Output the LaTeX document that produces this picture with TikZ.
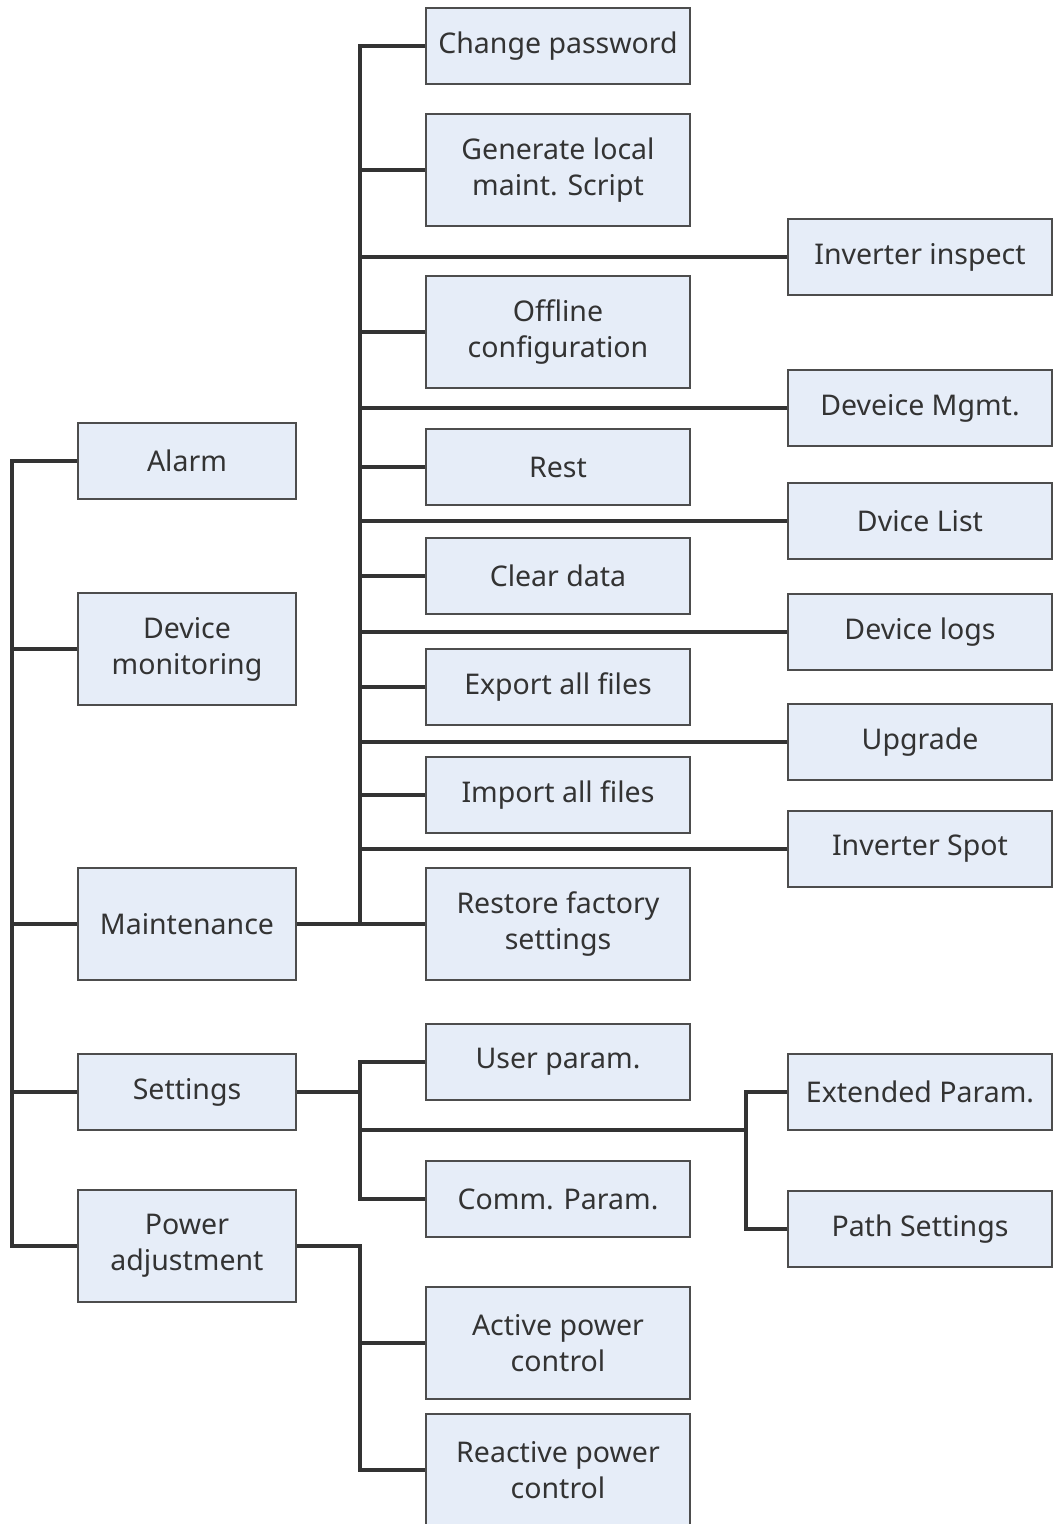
\documentclass[tikz,border=0pt]{standalone}
\usepackage{fontspec}
\setmainfont{Noto Sans}
\definecolor{boxfill}{HTML}{E6EDF8}
\definecolor{boxline}{HTML}{4D4D4D}
\definecolor{linec}{HTML}{333333}
\definecolor{txt}{HTML}{333333}
\begin{document}
\begin{tikzpicture}[x=1pt,y=-1pt,
  box/.style={draw=boxline,fill=boxfill,line width=1.5pt,align=center,text=txt,
    font=\fontsize{28.5}{36}\selectfont,inner sep=0pt},
  lbox/.style={box,minimum width=218pt},
  mbox/.style={box,minimum width=264pt},
  one/.style={minimum height=76pt},
  two/.style={minimum height=112pt},
  conn/.style={draw=linec,line width=3.2pt,line join=miter}]
\useasboundingbox (0,0) rectangle (1053,1524);
\clip (0,0) rectangle (1053,1524);
\coordinate (lx) at (12,0);
\coordinate (mx) at (360,0);
\coordinate (px) at (746,0);
\coordinate (sj) at (360,1130);
% left column
\node[lbox,one] (alarm) at (187,461) {Alarm};
\node[lbox,two] (devmon) at (187,649) {Device\\monitoring};
\node[lbox,two] (maint) at (187,924) {Maintenance};
\node[lbox,one] (settings) at (187,1092) {Settings};
\node[lbox,two] (power) at (187,1246) {Power\\adjustment};
% middle column
\node[mbox,one] (chpw) at (558,46) {Change password};
\node[mbox,two] (gen) at (558,170) {Generate local\\maint. Script};
\node[mbox,two] (offline) at (558,332) {Offline\\configuration};
\node[mbox,one] (rest) at (558,467) {Rest};
\node[mbox,one] (clear) at (558,576) {Clear data};
\node[mbox,one] (export) at (558,687) {Export all files};
\node[mbox,one] (import) at (558,795) {Import all files};
\node[mbox,two] (restore) at (558,924) {Restore factory\\settings};
\node[mbox,one] (user) at (558,1062) {User param.};
\node[mbox,one] (comm) at (558,1199) {Comm. Param.};
\node[mbox,two] (active) at (558,1343) {Active power\\control};
\node[mbox,two] (react) at (558,1470) {Reactive power\\control};
% right column
\node[mbox,one] (inspect) at (920,257) {Inverter inspect};
\node[mbox,one] (devmgmt) at (920,408) {Deveice Mgmt.};
\node[mbox,one] (dlist) at (920,521) {Dvice List};
\node[mbox,one] (dlogs) at (920,632) {Device logs};
\node[mbox,one] (upgrade) at (920,742) {Upgrade};
\node[mbox,one] (spot) at (920,849) {Inverter Spot};
\node[mbox,one] (ext) at (920,1092) {Extended Param.};
\node[mbox,one] (path) at (920,1229) {Path Settings};
% left trunk
\draw[conn] (alarm.west) -- (alarm.west -| lx) -- (power.west -| lx) -- (power.west);
\foreach \n in {devmon,maint,settings}
  \draw[conn] (\n.west) -- (\n.west -| lx);
% maintenance trunk
\draw[conn] (maint.east) -- (maint.east -| mx);
\draw[conn] (chpw.west) -- (chpw.west -| mx) -- (restore.west -| mx) -- (restore.west);
\foreach \n in {gen,offline,rest,clear,export,import}
  \draw[conn] (\n.west) -- (\n.west -| mx);
\foreach \n in {inspect,devmgmt,dlist,dlogs,upgrade,spot}
  \draw[conn] (\n.west) -- (\n.west -| mx);
% settings
\draw[conn] (settings.east) -- (settings.east -| mx);
\draw[conn] (user.west) -- (user.west -| mx) -- (comm.west -| mx) -- (comm.west);
\draw[conn] (sj) -- (sj -| px);
\draw[conn] (ext.west) -- (ext.west -| px) -- (path.west -| px) -- (path.west);
% power
\draw[conn] (power.east) -- (power.east -| mx) -- (react.west -| mx) -- (react.west);
\draw[conn] (active.west) -- (active.west -| mx);
\end{tikzpicture}
\end{document}
